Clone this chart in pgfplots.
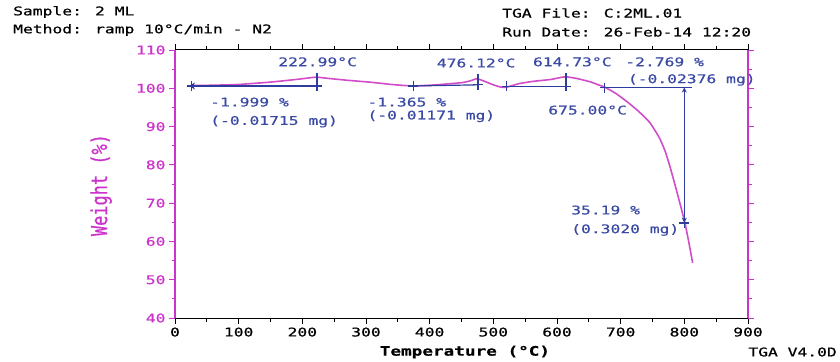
\documentclass[border=0pt]{standalone}
\usepackage{pgfplots}
\pgfplotsset{compat=1.18}
\usetikzlibrary{arrows.meta}
\usepackage{fontspec}
\setmainfont{DejaVu Sans Mono}[FakeStretch=1.36, FakeBold=0.6]
\newfontfamily\tallfont{DejaVu Sans Mono}[FakeStretch=0.77, FakeBold=0.6]
\definecolor{magcol}{HTML}{CC33CC}
\definecolor{curvecol}{HTML}{D24CC8}
\definecolor{bl}{HTML}{2E3C9E}
\definecolor{bltxt}{HTML}{3A4AA4}
\newcommand\tfont{\fontsize{12bp}{14bp}\selectfont}
\begin{document}
\begin{tikzpicture}
\useasboundingbox (0,0) rectangle (840bp,362bp);
\begin{axis}[
  at={(175bp,44bp)}, anchor=south west,
  scale only axis, width=573bp, height=268bp,
  xmin=0, xmax=900, ymin=40, ymax=110,
  xtick={0,100,...,900}, minor xtick={50,150,...,850},
  ytick={40,50,...,110}, minor ytick={45,55,...,105},
  tick align=outside, major tick length=6bp, minor tick length=3.5bp,
  separate axis lines,
  x axis line style={black, line width=1pt},
  y axis line style={magcol, line width=1.2pt},
  xtick style={black, line width=0.8pt},
  ytick style={magcol, line width=0.8pt},
  xticklabel style={black, font=\tfont},
  yticklabel style={magcol, font=\tfont},
  /pgf/number format/assume math mode=true,
  xlabel={\bfseries Temperature (°C)},
  xlabel style={font=\fontsize{13bp}{15bp}\selectfont, black, at={(axis description cs:0.506,-0.127)}, anchor=center},
  ylabel={Weight (\%)},
  ylabel style={font=\tallfont\fontsize{22bp}{24bp}\selectfont, magcol, at={(axis description cs:-0.129,0.496)}, anchor=center},
  clip=false,
]
% TGA curve
\addplot[curvecol, line width=1.6pt, smooth, tension=0.3] coordinates {
(24,100.7) (60,100.8) (100,101.0) (149,101.6) (190,102.3) (215,102.8) (223,102.9)
(240,102.6) (270,102.1) (306,101.6) (340,101.0) (374,100.6) (410,100.9) (432,101.2)
(452,101.5) (465,102.0) (474,102.5) (485,101.9) (500,100.9) (512,100.3) (521,100.3)
(540,101.2) (562,101.8) (590,102.3) (605,102.8) (614,103.0) (630,102.6) (652,101.7)
(665,100.9) (675,100.3) (692,98.7) (710,96.5) (728,94.0) (746,91.0) (761,87.0)
(770,83.5) (777,79.8) (785,75.0) (793,70.0) (801,64.8) (807,59.8) (813,54.4)
};
% annotation lines
\addplot[bl, line width=1.2pt, {Stealth[length=6bp,width=7bp]}-] coordinates {(22,100.6) (223,100.6)};
\addplot[bl, line width=1.2pt, only marks, mark=+, mark size=5bp] coordinates {(26,100.6) (223,100.6)};
\addplot[bl, line width=1.8pt] coordinates {(223,99.3) (223,103.9)};
\addplot[bl, line width=1.2pt, mark=+, mark size=5bp] coordinates {(374,100.6) (476,100.9)};
\addplot[bl, line width=1.8pt] coordinates {(476,100.0) (476,103.6)};
\addplot[bl, line width=1.2pt, mark=+, mark size=5bp] coordinates {(521,100.5) (614,100.5)};
\addplot[bl, line width=1.8pt] coordinates {(614,99.9) (614,104.0)};
\addplot[bl, line width=1.2pt, mark=+, mark size=5bp] coordinates {(675,100.2)};
\addplot[bl, line width=1.2pt] coordinates {(675,100.2) (812,100.2)};
\addplot[bl, line width=1.2pt, {Stealth[length=5bp,width=5bp]}-{Stealth[length=5bp,width=5bp]}] coordinates {(800,100.2) (800,64.9)};
\addplot[bl, line width=1.2pt, mark=+, mark size=5bp] coordinates {(800,64.8)};
% annotation texts
\begin{scope}[every node/.style={font=\tfont, text=bltxt, inner sep=0pt}]
\node[anchor=center] at (axis cs:224,106.9) {222.99°C};
\node[anchor=west] at (axis cs:55,96.4) {-1.999 \%};
\node[anchor=west] at (axis cs:55,91.3) {(-0.01715 mg)};
\node[anchor=west] at (axis cs:302,96.4) {-1.365 \%};
\node[anchor=west] at (axis cs:302,92.7) {(-0.01171 mg)};
\node[anchor=center] at (axis cs:473,106.6) {476.12°C};
\node[anchor=west] at (axis cs:562,106.9) {614.73°C};
\node[anchor=west] at (axis cs:707,106.9) {-2.769 \%};
\node[anchor=west] at (axis cs:711,102.2) {(-0.02376 mg)};
\node[anchor=west] at (axis cs:586,94.3) {675.00°C};
\node[anchor=west] at (axis cs:622,68.2) {35.19 \%};
\node[anchor=west] at (axis cs:622,63.0) {(0.3020 mg)};
\end{scope}
\end{axis}
\begin{scope}[every node/.style={font=\tfont, text=black, inner sep=0pt}]
\node[anchor=west] at (13bp,350bp) {Sample: 2 ML};
\node[anchor=west] at (13bp,332bp) {Method: ramp 10°C/min - N2};
\node[anchor=west] at (502bp,349bp) {TGA File: C:2ML.01};
\node[anchor=west] at (502bp,330bp) {Run Date: 26-Feb-14 12:20};
\node[anchor=east] at (837bp,10bp) {TGA V4.0D};
\end{scope}
\end{tikzpicture}
\end{document}
